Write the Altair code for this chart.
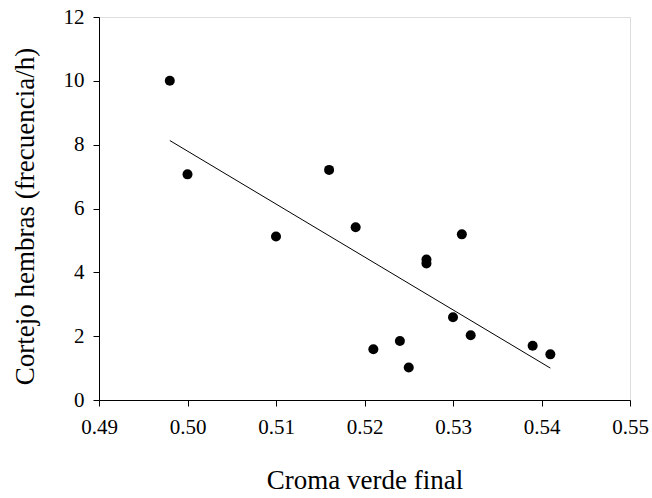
import altair as alt
import pandas as pd

croma = [0.498, 0.500, 0.510, 0.516, 0.519, 0.521, 0.524, 0.525, 0.527, 0.527,
         0.530, 0.531, 0.532, 0.539, 0.541]
cortejo = [10.0, 7.07, 5.12, 7.21, 5.41, 1.59, 1.85, 1.02, 4.40, 4.28,
           2.59, 5.19, 2.03, 1.70, 1.43]

fit_x = [0.498, 0.541]
fit_y = [8.13, 1.00]

x_ticks = [0.49, 0.50, 0.51, 0.52, 0.53, 0.54, 0.55]
y_ticks = [0, 2, 4, 6, 8, 10, 12]

pts = pd.DataFrame({"x": croma, "y": cortejo})
fit = pd.DataFrame({"x": fit_x, "y": fit_y})

FONT = "Liberation Serif"

xscale = alt.Scale(domain=[0.49, 0.55], nice=False, zero=False)
yscale = alt.Scale(domain=[0, 12], nice=False)

xaxis = alt.Axis(values=x_ticks, format=".2f", title="Croma verde final",
                 grid=False, tickSize=6, labelPadding=10, labelFontSize=21,
                 labelFlush=False, labelOverlap=False,
                 titleFontSize=27, titleFontWeight="normal",
                 titleY=88, titleBaseline="alphabetic",
                 labelFont=FONT, titleFont=FONT, domainColor="black",
                 tickColor="black", labelColor="black", titleColor="black")
yaxis = alt.Axis(values=y_ticks, format="d", title="Cortejo hembras (frecuencia/h)",
                 grid=False, tickSize=6, labelPadding=9, labelFontSize=21,
                 labelFlush=False, labelOverlap=False,
                 titleFontSize=27, titleFontWeight="normal",
                 titleX=-74, titleY=199, titleAngle=-90, titleAlign="center",
                 titleBaseline="middle",
                 labelFont=FONT, titleFont=FONT, domainColor="black",
                 tickColor="black", labelColor="black", titleColor="black")

points = alt.Chart(pts).mark_circle(size=100, color="black", opacity=1).encode(
    x=alt.X("x:Q", scale=xscale, axis=xaxis),
    y=alt.Y("y:Q", scale=yscale, axis=yaxis),
)

line = alt.Chart(fit).mark_line(color="black", strokeWidth=1).encode(
    x=alt.X("x:Q", scale=xscale),
    y=alt.Y("y:Q", scale=yscale),
)

chart = (line + points).properties(
    width=531, height=383,
    autosize=alt.AutoSizeParams(type="none"),
    padding={"left": 99, "top": 17, "right": 22, "bottom": 98},
).configure_view(stroke="black", strokeWidth=1).configure(background="white")

chart.save("out.html", embed_options={"renderer": "svg", "actions": False})
